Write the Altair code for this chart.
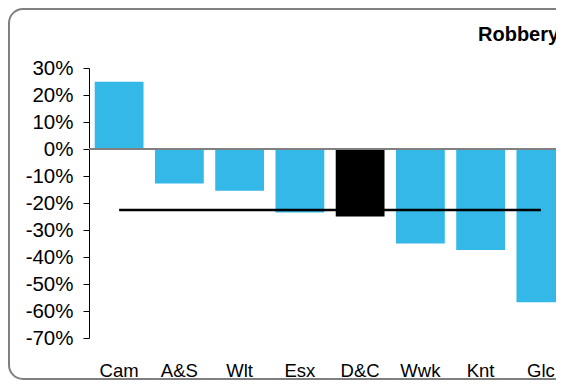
import altair as alt
import pandas as pd

# Data
categories = ["Cam", "A&S", "Wlt", "Esx", "D&C", "Wwk", "Knt", "Glc"]
change = [0.249, -0.128, -0.155, -0.235, -0.250, -0.350, -0.374, -0.568]
average = -0.226
highlight = "D&C"
y_ticks = [0.3, 0.2, 0.1, 0.0, -0.1, -0.2, -0.3, -0.4, -0.5, -0.6, -0.7]
title_text = "Robbery"

df = pd.DataFrame({"force": categories, "change": change, "avg": [average] * len(categories)})

FONT = "Liberation Sans"
BLUE = "#33B8E8"

x_enc = alt.X(
    "force:N",
    sort=categories,
    title=None,
    scale=alt.Scale(range=[0, 482], paddingInner=0.19, paddingOuter=0.095),
    axis=alt.Axis(
        labelAngle=0, ticks=False, tickSize=0, domain=False,
        labelPadding=38, labelBaseline="alphabetic",
        labelFontSize=18.5, labelColor="black", labelFont=FONT,
    ),
)
y_scale = alt.Scale(domain=[-0.7, 0.3], nice=False, zero=False)
y_axis = alt.Axis(
    values=y_ticks, labelExpr="round(datum.value * 100) + '%'",
    labelOverlap=False, grid=False, tickSize=6, labelPadding=10,
    domainColor="black", tickColor="black", labelFontSize=20.5,
    labelColor="black", labelFont=FONT,
)

bars = alt.Chart(df).mark_bar(clip=True).encode(
    x=x_enc,
    y=alt.Y("change:Q", title=None, scale=y_scale, axis=y_axis),
    color=alt.condition(alt.datum.force == highlight, alt.value("black"), alt.value(BLUE)),
)

zero = alt.Chart(pd.DataFrame({"change": [0.0]})).mark_rule(
    color="#808080", strokeWidth=2
).encode(y=alt.Y("change:Q", title=None, scale=y_scale, axis=y_axis))

avg_line = alt.Chart(df).mark_line(color="black", strokeWidth=2.5, clip=True).encode(
    x=alt.X("force:N", sort=categories, title=None),
    y=alt.Y("avg:Q", title=None, scale=y_scale, axis=y_axis),
)

# rounded frame (open on the right, where the reference is cut off)
frame_path = (
    "M470,-59 L-66,-59 A14,14 0 0 0 -80,-45 L-80,297 "
    "A14,14 0 0 0 -66,311 L470,311"
)
border = alt.Chart(pd.DataFrame({"k": [0]})).mark_point(
    shape=frame_path, size=4, filled=False, fill=None, stroke="#808080",
    strokeWidth=2, opacity=1, clip=False,
).encode(x=alt.value(0), y=alt.value(0))

title = alt.Chart(pd.DataFrame({"t": [title_text]})).mark_text(
    align="left", baseline="alphabetic", fontWeight="bold", fontSize=20,
    font=FONT, color="black",
).encode(x=alt.value(389), y=alt.value(-27), text="t:N")

chart = alt.layer(bars, zero, avg_line, border, title).properties(
    width=467,
    height=270,
    autosize=alt.AutoSizeParams(type="none"),
    padding={"left": 81, "top": 60, "right": 0, "bottom": 42},
    background="white",
).configure_view(stroke=None).configure_axisY(labelOverlap=False)

chart.save("out.html", embed_options={"renderer": "svg", "actions": False})
